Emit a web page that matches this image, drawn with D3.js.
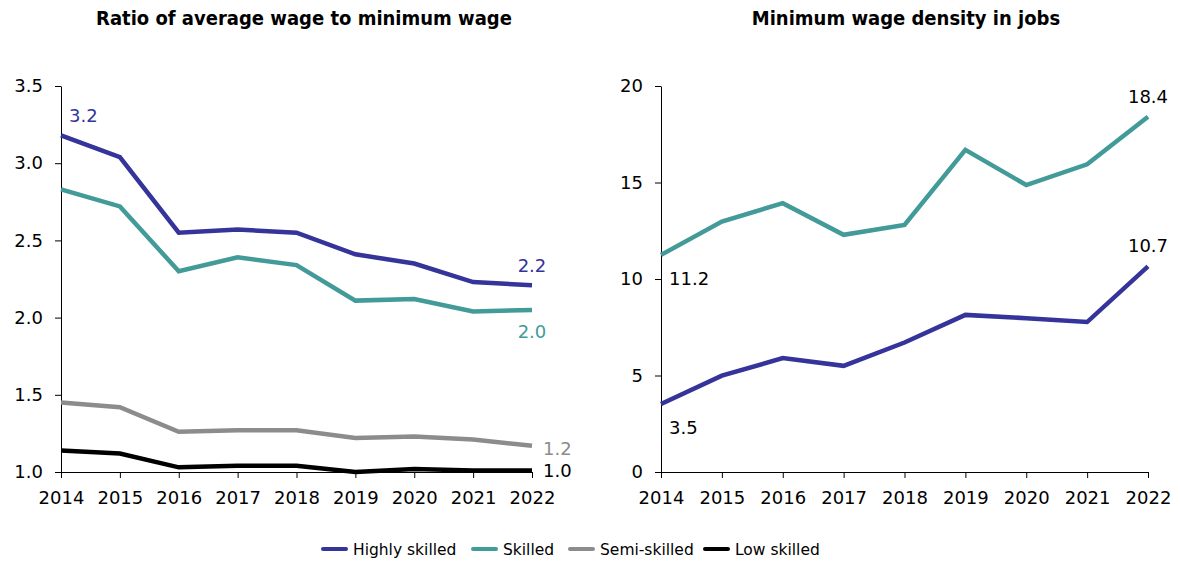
<!DOCTYPE html>
<html>
<head>
<meta charset="utf-8">
<script src="https://cdn.jsdelivr.net/npm/d3@7"></script>
<style>
  body { margin: 0; background: #fff; }
  text { font-family: "DejaVu Sans", Verdana, sans-serif; }
</style>
</head>
<body>
<div id="chart"></div>
<script>
// years on both x axes
const years = [2014, 2015, 2016, 2017, 2018, 2019, 2020, 2021, 2022];

// left panel: ratio of average wage to minimum wage
const ratioHighly = [3.18, 3.04, 2.55, 2.57, 2.55, 2.41, 2.35, 2.23, 2.21];
const ratioSkilled = [2.83, 2.72, 2.30, 2.39, 2.34, 2.11, 2.12, 2.04, 2.05];
const ratioSemi = [1.45, 1.42, 1.26, 1.27, 1.27, 1.22, 1.23, 1.21, 1.17];
const ratioLow = [1.14, 1.12, 1.03, 1.04, 1.04, 1.00, 1.02, 1.01, 1.01];

// right panel: minimum wage density in jobs
const densitySkilled = [11.25, 12.98, 13.93, 12.29, 12.8, 16.69, 14.87, 15.94, 18.41];
const densityHighly = [3.52, 4.99, 5.90, 5.50, 6.71, 8.14, 7.97, 7.77, 10.65];

const ratioTicks = [1.0, 1.5, 2.0, 2.5, 3.0, 3.5];
const densityTicks = [0, 5, 10, 15, 20];

const legendNames = ["Highly skilled", "Skilled", "Semi-skilled", "Low skilled"];
const colors = ["#34349a", "#429b99", "#8c8c8c", "#000000"];

const svg = d3.select("#chart").append("svg")
    .attr("width", 1180)
    .attr("height", 565);

function panel(opts) {
    const x = d3.scaleLinear().domain([years[0], years[years.length - 1]]).range([opts.x0, opts.x1]);
    const y = d3.scaleLinear().domain(opts.domain).range([472, 86]);
    const g = svg.append("g");

    g.append("text")
        .attr("x", opts.titleX)
        .attr("y", 25)
        .attr("text-anchor", "middle")
        .style("font-family", "'DejaVu Sans Condensed', 'DejaVu Sans', sans-serif")
        .style("font-weight", "bold")
        .style("font-size", "20px")
        .text(opts.title);

    const xAxis = g.append("g")
        .attr("transform", `translate(0,${y(opts.domain[0])})`)
        .call(d3.axisBottom(x).tickValues(years).tickFormat(d3.format("d"))
            .tickSizeInner(6).tickSizeOuter(0).tickPadding(13));
    const yAxis = g.append("g")
        .attr("transform", `translate(${opts.x0},0)`)
        .call(d3.axisLeft(y).tickValues(opts.ticks).tickFormat(opts.fmt)
            .tickSizeInner(6).tickSizeOuter(0).tickPadding(12));
    [xAxis, yAxis].forEach(a => {
        a.selectAll("text").style("font-size", "18px").attr("fill", "#000");
        a.selectAll("line, path").attr("stroke", "#000");
    });

    const line = d3.line().x((d, i) => x(years[i])).y(d => y(d));
    opts.series.forEach(s => {
        g.append("path")
            .datum(s.values)
            .attr("fill", "none")
            .attr("stroke", s.color)
            .attr("stroke-width", 4.5)
            .attr("d", line);
    });

    opts.labels.forEach(l => {
        g.append("text")
            .attr("x", x(l.year) + l.dx)
            .attr("y", y(l.value) + l.dy)
            .attr("text-anchor", l.anchor || "start")
            .attr("fill", l.color)
            .style("font-size", "18px")
            .text(l.text);
    });
}

panel({
    x0: 61, x1: 532, titleX: 304,
    title: "Ratio of average wage to minimum wage",
    domain: [1.0, 3.5], ticks: ratioTicks, fmt: d3.format(".1f"),
    series: [
        { values: ratioHighly, color: colors[0] },
        { values: ratioSkilled, color: colors[1] },
        { values: ratioSemi, color: colors[2] },
        { values: ratioLow, color: colors[3] }
    ],
    labels: [
        { year: 2014, value: ratioHighly[0], text: "3.2", color: colors[0], dx: 8, dy: -13 },
        { year: 2022, value: ratioHighly[8], text: "2.2", color: colors[0], dx: 0, dy: -13, anchor: "middle" },
        { year: 2022, value: ratioSkilled[8], text: "2.0", color: colors[1], dx: 0, dy: 28, anchor: "middle" },
        { year: 2022, value: ratioSemi[8], text: "1.2", color: colors[2], dx: 11, dy: 9 },
        { year: 2022, value: ratioLow[8], text: "1.0", color: colors[3], dx: 11, dy: 7 }
    ]
});

panel({
    x0: 661, x1: 1148, titleX: 906,
    title: "Minimum wage density in jobs",
    domain: [0, 20], ticks: densityTicks, fmt: d3.format("d"),
    series: [
        { values: densitySkilled, color: colors[1] },
        { values: densityHighly, color: colors[0] }
    ],
    labels: [
        { year: 2014, value: densitySkilled[0], text: "11.2", color: "#000", dx: 8, dy: 30 },
        { year: 2014, value: densityHighly[0], text: "3.5", color: "#000", dx: 8, dy: 30 },
        { year: 2022, value: densitySkilled[8], text: "18.4", color: "#000", dx: 0, dy: -14, anchor: "middle" },
        { year: 2022, value: densityHighly[8], text: "10.7", color: "#000", dx: 0, dy: -14, anchor: "middle" }
    ]
});

// legend
const legendX = [323, 473, 570, 705];
const legend = svg.append("g");
legendNames.forEach((name, i) => {
    legend.append("line")
        .attr("x1", legendX[i]).attr("x2", legendX[i] + 23)
        .attr("y1", 549).attr("y2", 549)
        .attr("stroke", colors[i])
        .attr("stroke-width", 4)
        .attr("stroke-linecap", "round");
    legend.append("text")
        .attr("x", legendX[i] + 30)
        .attr("y", 554.5)
        .style("font-size", "15.5px")
        .text(name);
});
</script>
</body>
</html>
